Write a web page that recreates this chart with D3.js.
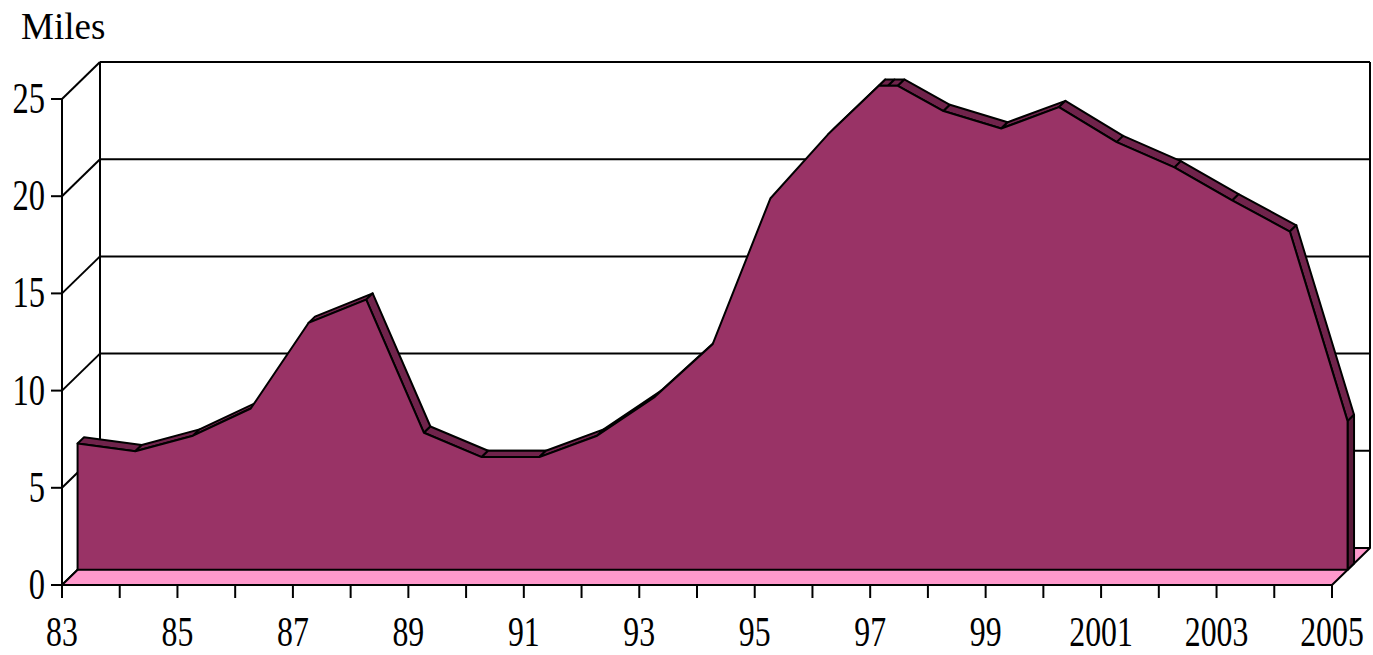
<!DOCTYPE html>
<html>
<head>
<meta charset="utf-8">
<script src="https://cdn.jsdelivr.net/npm/d3@7"></script>
<style>
  html, body { margin: 0; padding: 0; background: #fff; }
  svg { display: block; }
</style>
</head>
<body>
<svg id="chart" width="1373" height="655"></svg>
<script>
// ---- data ----
const years  = [1983, 1984, 1985, 1986, 1987, 1988, 1989, 1990, 1991, 1992, 1993, 1994, 1995, 1996,
                1996.88, 1997.04, 1997.21, 1998, 1999, 2000, 2001, 2002, 2003, 2004, 2005];
const miles  = [6.5, 6.1, 6.9, 8.3, 12.7, 13.9, 7.05, 5.8, 5.8, 6.9, 8.9, 11.6, 19.1, 22.4,
                24.9, 24.9, 24.9, 23.6, 22.7, 23.8, 22.0, 20.7, 19.0, 17.4, 7.65];
const yTicks = [0, 5, 10, 15, 20, 25];
const xTickYears = d3.range(1983, 2006);
const xLabels = {1983:"83",1985:"85",1987:"87",1989:"89",1991:"91",1993:"93",1995:"95",1997:"97",
                 1999:"99",2001:"2001",2003:"2003",2005:"2005"};
const yTitle = "Miles";

// ---- scales / projection ----
const svg = d3.select("#chart");
const x = d3.scaleLinear().domain([1983, 2005]).range([62, 1332]);
const y = d3.scaleLinear().domain([0, 25]).range([585, 99]);
const DX = 38, DY = -37;
const P = (yr, v, f) => [x(yr) + f * DX, y(v) + f * DY];
const fFront = 0.41, fBack = 0.58;

const stroke = "#000";
const line = (a, b, w = 2) => svg.append("line")
  .attr("x1", a[0]).attr("y1", a[1]).attr("x2", b[0]).attr("y2", b[1])
  .attr("stroke", stroke).attr("stroke-width", w);

// ---- walls ----
const x0 = 1983, x1 = 2005;
yTicks.forEach(t => { if (t > 0) line(P(x0, t, 1), P(x1, t, 1)); });
yTicks.forEach(t => line(P(x0, t, 0), P(x0, t, 1)));
line(P(x0, 0, 0), P(x0, 25, 0));
line(P(x0, 0, 1), P(x0, 25, 1));
line(P(x1, 0, 1), P(x1, 25, 1));

// ---- floor ----
svg.append("polygon")
  .attr("points", [P(x0,0,0), P(x1,0,0), P(x1,0,1), P(x0,0,1)].map(p => p.join(",")).join(" "))
  .attr("fill", "#FF99CC").attr("stroke", stroke).attr("stroke-width", 2).attr("stroke-linejoin", "round");

// ---- series (3D area) ----
const g = svg.append("g").attr("stroke", stroke).attr("stroke-width", 2).attr("stroke-linejoin", "round");
const bdx = (fBack - fFront) * DX, bdy = (fBack - fFront) * DY;
for (let i = 0; i < years.length - 1; i++) {
  const a = P(years[i], miles[i], fFront), b = P(years[i+1], miles[i+1], fFront);
  const ex = b[0] - a[0], ey = b[1] - a[1];
  if (bdy * ex - ey * bdx < 0) {
    const pts = [a, b, [b[0] + bdx, b[1] + bdy], [a[0] + bdx, a[1] + bdy]];
    g.append("polygon").attr("points", pts.map(p => p.join(",")).join(" ")).attr("fill", "#70234B");
  }
}
{
  const n = years.length - 1;
  const a = P(years[n], miles[n], fFront), b = P(years[n], 0, fFront);
  const pts = [a, b, [b[0] + bdx, b[1] + bdy], [a[0] + bdx, a[1] + bdy]];
  g.append("polygon").attr("points", pts.map(p => p.join(",")).join(" ")).attr("fill", "#5A1A3A");
}
{
  const pts = years.map((yr, i) => P(yr, miles[i], fFront));
  pts.push(P(years[years.length-1], 0, fFront));
  pts.push(P(years[0], 0, fFront));
  g.append("polygon").attr("points", pts.map(p => p.join(",")).join(" ")).attr("fill", "#993366");
}

// ---- x axis ----
line(P(x0,0,0), P(x1,0,0));
xTickYears.forEach(yr => line([x(yr), 585], [x(yr), 598]));
const fontFam = "'Liberation Serif', 'DejaVu Serif', serif";
xTickYears.filter(yr => xLabels[yr]).forEach(yr => {
  svg.append("text")
    .attr("transform", `translate(${x(yr)},646) scale(0.74,1)`)
    .attr("text-anchor", "middle")
    .attr("font-family", fontFam).attr("font-size", 43)
    .attr("fill", "#000").text(xLabels[yr]);
});

// ---- y axis ----
yTicks.forEach(t => {
  line([51, y(t)], [62, y(t)]);
  svg.append("text")
    .attr("transform", `translate(45,${y(t) + 14}) scale(0.74,1)`)
    .attr("text-anchor", "end")
    .attr("font-family", fontFam).attr("font-size", 44)
    .attr("fill", "#000").text(t);
});

svg.append("text")
  .attr("x", 21).attr("y", 39)
  .attr("font-family", fontFam).attr("font-size", 37)
  .attr("fill", "#000").text(yTitle);
</script>
</body>
</html>
